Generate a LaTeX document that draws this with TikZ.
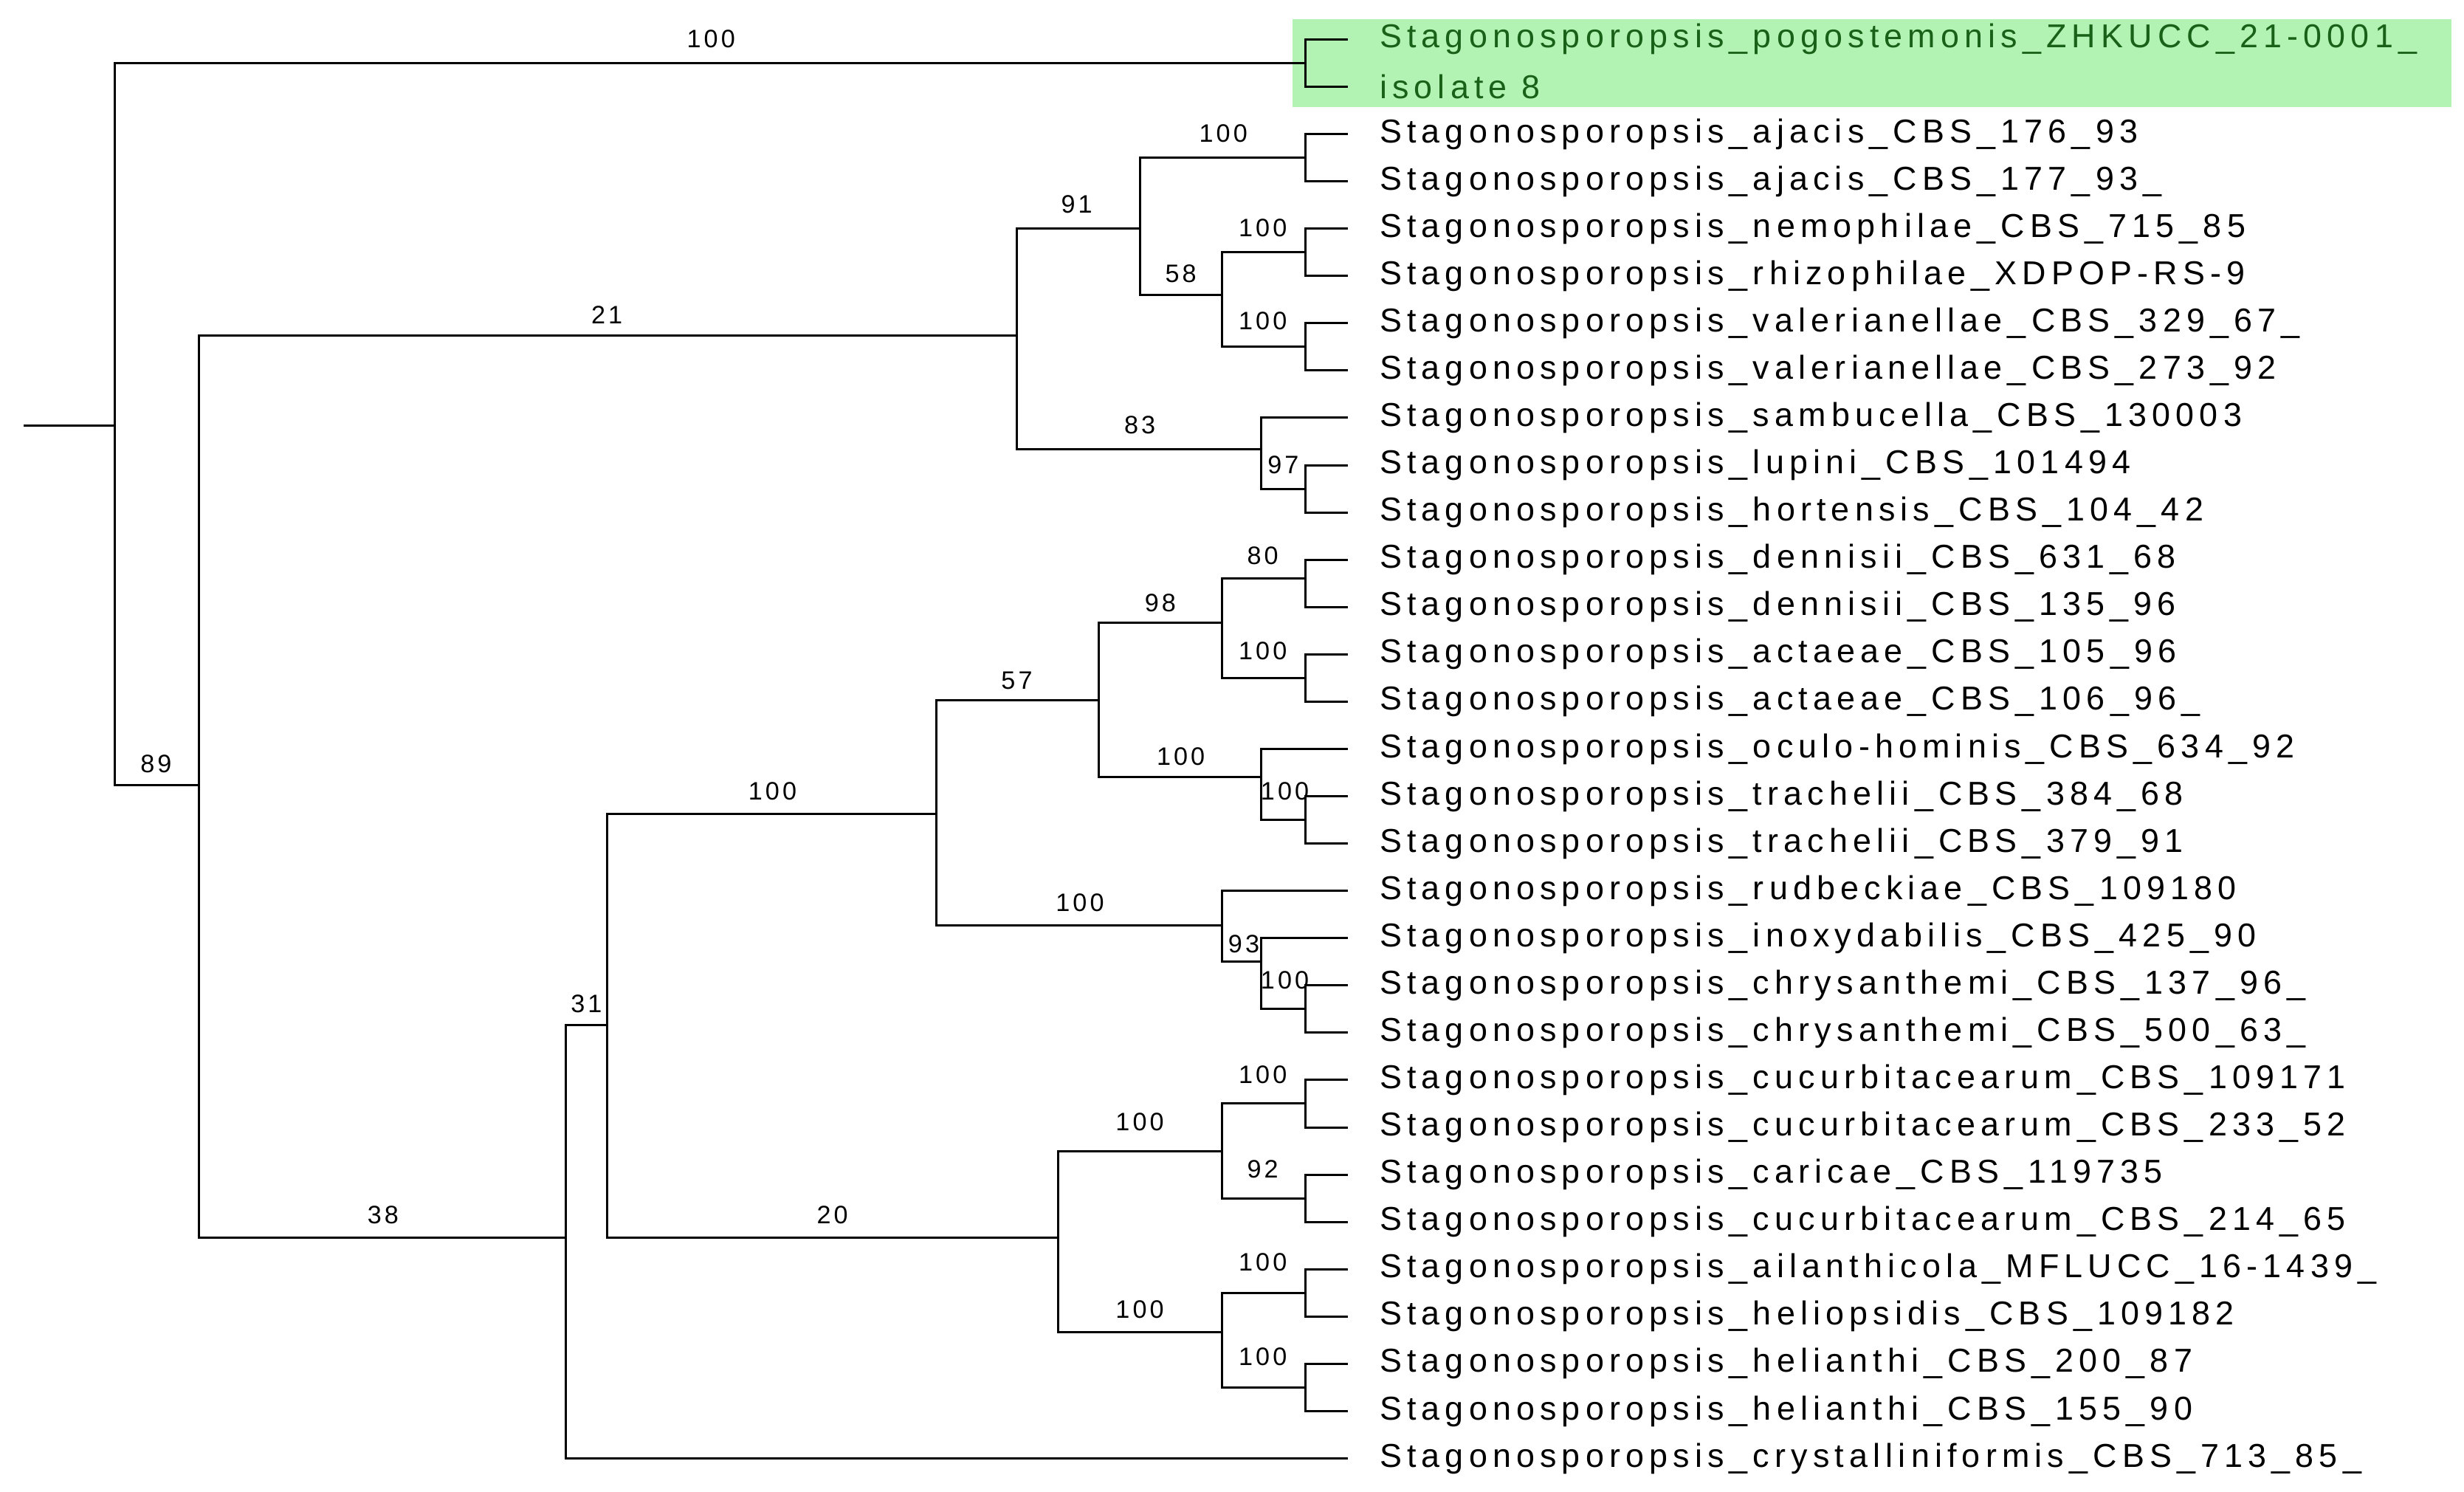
\documentclass[tikz,border=0pt]{standalone}
\usepackage{fontspec}
\setmainfont{Liberation Sans}
\definecolor{hilite}{rgb}{0.70, 0.95, 0.70}
\definecolor{tipgreen}{rgb}{0.10, 0.38, 0.10}
\tikzset{
  branch/.style={line width=1.4pt},
  tip/.style={anchor=west, inner xsep=20pt, inner ysep=0pt, font=\fontsize{21}{24}\selectfont\addfontfeature{LetterSpace=16}},
  bs/.style={anchor=south, inner sep=1.5pt, font=\fontsize{16}{18}\selectfont\addfontfeature{LetterSpace=12}}
}
\begin{document}
\begin{tikzpicture}[x=1pt, y=-1pt]
        \useasboundingbox (0,0) rectangle (1563,946);
        \fill [hilite] (820,12) rectangle (1555,68);

        % tips
        \foreach \name [count=\i from 0] in {
            Stagonosporopsis\_pogostemonis\_ZHKUCC\_21-0001\_, isolate 8,
            Stagonosporopsis\_ajacis\_CBS\_176\_93, Stagonosporopsis\_ajacis\_CBS\_177\_93\_,
            Stagonosporopsis\_nemophilae\_CBS\_715\_85, Stagonosporopsis\_rhizophilae\_XDPOP-RS-9,
            Stagonosporopsis\_valerianellae\_CBS\_329\_67\_, Stagonosporopsis\_valerianellae\_CBS\_273\_92,
            Stagonosporopsis\_sambucella\_CBS\_130003, Stagonosporopsis\_lupini\_CBS\_101494,
            Stagonosporopsis\_hortensis\_CBS\_104\_42, Stagonosporopsis\_dennisii\_CBS\_631\_68,
            Stagonosporopsis\_dennisii\_CBS\_135\_96, Stagonosporopsis\_actaeae\_CBS\_105\_96,
            Stagonosporopsis\_actaeae\_CBS\_106\_96\_, Stagonosporopsis\_oculo-hominis\_CBS\_634\_92,
            Stagonosporopsis\_trachelii\_CBS\_384\_68, Stagonosporopsis\_trachelii\_CBS\_379\_91,
            Stagonosporopsis\_rudbeckiae\_CBS\_109180, Stagonosporopsis\_inoxydabilis\_CBS\_425\_90,
            Stagonosporopsis\_chrysanthemi\_CBS\_137\_96\_, Stagonosporopsis\_chrysanthemi\_CBS\_500\_63\_,
            Stagonosporopsis\_cucurbitacearum\_CBS\_109171, Stagonosporopsis\_cucurbitacearum\_CBS\_233\_52,
            Stagonosporopsis\_caricae\_CBS\_119735, Stagonosporopsis\_cucurbitacearum\_CBS\_214\_65,
            Stagonosporopsis\_ailanthicola\_MFLUCC\_16-1439\_, Stagonosporopsis\_heliopsidis\_CBS\_109182,
            Stagonosporopsis\_helianthi\_CBS\_200\_87, Stagonosporopsis\_helianthi\_CBS\_155\_90,
            Stagonosporopsis\_crystalliniformis\_CBS\_713\_85\_}
            {
            \ifnum\i<2 \def\tipcol{tipgreen}\else \def\tipcol{black}\fi
            \node [tip, text=\tipcol] (t\i) at (855, 25+30*\i) {\name};
            }

        % internal nodes
        \coordinate (root) at (73, 270);
        \coordinate (stem) at (15, 270);
        \coordinate (nA) at (828, 40);
        \coordinate (n89) at (126, 498);
        \coordinate (n21) at (645, 213);
        \coordinate (n91) at (723, 145);
        \coordinate (nAj) at (828, 100);
        \coordinate (n58) at (775, 187);
        \coordinate (nNe) at (828, 160);
        \coordinate (nVa) at (828, 220);
        \coordinate (n83) at (800, 285);
        \coordinate (n97) at (828, 310);
        \coordinate (n38) at (359, 785);
        \coordinate (n31) at (385, 650);
        \coordinate (nB) at (594, 516);
        \coordinate (n57) at (697, 444);
        \coordinate (n98) at (775, 395);
        \coordinate (n80) at (828, 367);
        \coordinate (nAc) at (828, 430);
        \coordinate (nOc) at (800, 493);
        \coordinate (nTr) at (828, 520);
        \coordinate (nRu) at (775, 587);
        \coordinate (n93) at (800, 610);
        \coordinate (nCh) at (828, 640);
        \coordinate (n20) at (671, 785);
        \coordinate (nCu) at (775, 730);
        \coordinate (nC1) at (828, 700);
        \coordinate (n92) at (828, 760);
        \coordinate (nHe) at (775, 845);
        \coordinate (nAi) at (828, 820);
        \coordinate (nH2) at (828, 880);

        % branches
        \draw [branch] (stem) -- (root);
        \draw [branch] (root) |- (nA);   \draw [branch] (root) |- (n89);
        \draw [branch] (nA) |- (t0.west); \draw [branch] (nA) |- (t1.west);
        \draw [branch] (n89) |- (n21);   \draw [branch] (n89) |- (n38);
        \draw [branch] (n21) |- (n91);   \draw [branch] (n21) |- (n83);
        \draw [branch] (n91) |- (nAj);   \draw [branch] (n91) |- (n58);
        \draw [branch] (nAj) |- (t2.west); \draw [branch] (nAj) |- (t3.west);
        \draw [branch] (n58) |- (nNe);   \draw [branch] (n58) |- (nVa);
        \draw [branch] (nNe) |- (t4.west); \draw [branch] (nNe) |- (t5.west);
        \draw [branch] (nVa) |- (t6.west); \draw [branch] (nVa) |- (t7.west);
        \draw [branch] (n83) |- (t8.west); \draw [branch] (n83) |- (n97);
        \draw [branch] (n97) |- (t9.west); \draw [branch] (n97) |- (t10.west);
        \draw [branch] (n38) |- (n31);   \draw [branch] (n38) |- (t30.west);
        \draw [branch] (n31) |- (nB);    \draw [branch] (n31) |- (n20);
        \draw [branch] (nB) |- (n57);    \draw [branch] (nB) |- (nRu);
        \draw [branch] (n57) |- (n98);   \draw [branch] (n57) |- (nOc);
        \draw [branch] (n98) |- (n80);   \draw [branch] (n98) |- (nAc);
        \draw [branch] (n80) |- (t11.west); \draw [branch] (n80) |- (t12.west);
        \draw [branch] (nAc) |- (t13.west); \draw [branch] (nAc) |- (t14.west);
        \draw [branch] (nOc) |- (t15.west); \draw [branch] (nOc) |- (nTr);
        \draw [branch] (nTr) |- (t16.west); \draw [branch] (nTr) |- (t17.west);
        \draw [branch] (nRu) |- (t18.west); \draw [branch] (nRu) |- (n93);
        \draw [branch] (n93) |- (t19.west); \draw [branch] (n93) |- (nCh);
        \draw [branch] (nCh) |- (t20.west); \draw [branch] (nCh) |- (t21.west);
        \draw [branch] (n20) |- (nCu);   \draw [branch] (n20) |- (nHe);
        \draw [branch] (nCu) |- (nC1);   \draw [branch] (nCu) |- (n92);
        \draw [branch] (nC1) |- (t22.west); \draw [branch] (nC1) |- (t23.west);
        \draw [branch] (n92) |- (t24.west); \draw [branch] (n92) |- (t25.west);
        \draw [branch] (nHe) |- (nAi);   \draw [branch] (nHe) |- (nH2);
        \draw [branch] (nAi) |- (t26.west); \draw [branch] (nAi) |- (t27.west);
        \draw [branch] (nH2) |- (t28.west); \draw [branch] (nH2) |- (t29.west);

        % support values
        \node [bs] at (451, 32) {100};
        \node [bs] at (99, 492) {89};
        \node [bs] at (385, 207) {21};
        \node [bs] at (683, 137) {91};
        \node [bs] at (776, 92) {100};
        \node [bs] at (749, 181) {58};
        \node [bs] at (801, 152) {100};
        \node [bs] at (801, 211) {100};
        \node [bs] at (723, 277) {83};
        \node [bs] at (814, 302) {97};
        \node [bs] at (243, 778) {38};
        \node [bs] at (372, 644) {31};
        \node [bs] at (490, 509) {100};
        \node [bs] at (645, 439) {57};
        \node [bs] at (736, 390) {98};
        \node [bs] at (801, 360) {80};
        \node [bs] at (801, 420) {100};
        \node [bs] at (749, 487) {100};
        \node [bs] at (815, 509) {100};
        \node [bs] at (685, 580) {100};
        \node [bs] at (789, 606) {93};
        \node [bs] at (815, 629) {100};
        \node [bs] at (528, 778) {20};
        \node [bs] at (723, 719) {100};
        \node [bs] at (801, 689) {100};
        \node [bs] at (801, 749) {92};
        \node [bs] at (723, 838) {100};
        \node [bs] at (801, 808) {100};
        \node [bs] at (801, 868) {100};
\end{tikzpicture}
\end{document}
